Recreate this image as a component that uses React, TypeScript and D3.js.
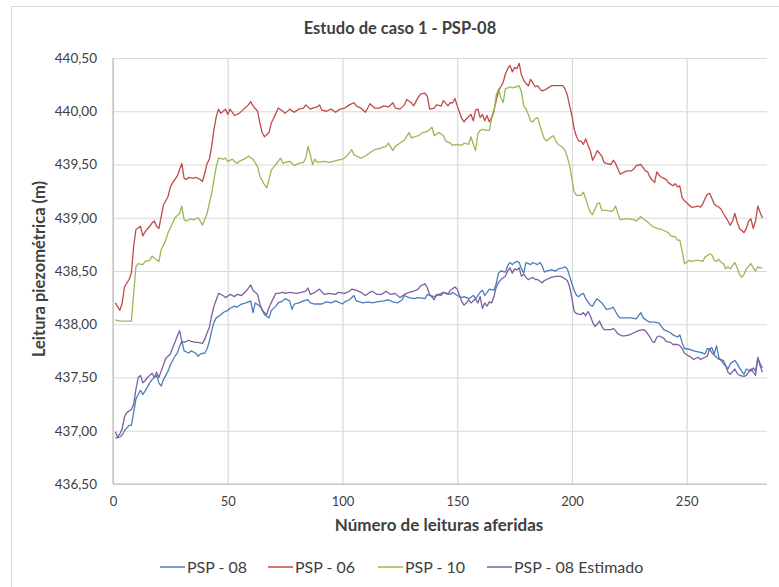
import { axisBottom, axisLeft, line, scaleLinear, select } from "d3";
import React, { useEffect, useRef } from "react";

// readings (x) and piezometric levels (m)
const psp08: [number, number][] = [
    [1, 436.93], [3, 436.94], [4, 436.96], [5, 437.0], [7, 437.05], [8, 437.05], [9, 437.17], [10, 437.3],
    [12, 437.38], [13, 437.34], [15, 437.41], [16, 437.45], [17, 437.48], [19, 437.52], [20, 437.45], [21, 437.42],
    [22, 437.48], [24, 437.56], [25, 437.62], [27, 437.7], [28, 437.73], [29, 437.79], [30, 437.84], [31, 437.75],
    [33, 437.73], [34, 437.75], [36, 437.73], [37, 437.7], [38, 437.72], [40, 437.73], [41, 437.77], [42, 437.84],
    [43, 437.94], [44, 438.02], [45, 438.06], [47, 438.09], [48, 438.11], [50, 438.13], [51, 438.15], [53, 438.17],
    [54, 438.16], [56, 438.19], [58, 438.2], [60, 438.22], [61, 438.11], [62, 438.2], [64, 438.17], [65, 438.14],
    [66, 438.09], [68, 438.06], [69, 438.13], [71, 438.17], [72, 438.2], [74, 438.22], [75, 438.24], [77, 438.22],
    [78, 438.14], [79, 438.19], [81, 438.2], [83, 438.22], [85, 438.23], [86, 438.2], [88, 438.19], [91, 438.19],
    [93, 438.21], [95, 438.2], [97, 438.22], [100, 438.19], [101, 438.21], [103, 438.23], [105, 438.27], [106, 438.22],
    [109, 438.2], [111, 438.21], [113, 438.2], [115, 438.21], [118, 438.22], [120, 438.23], [122, 438.21], [124, 438.2],
    [126, 438.23], [127, 438.27], [129, 438.25], [131, 438.24], [133, 438.25], [136, 438.24], [137, 438.28], [138, 438.27],
    [140, 438.26], [142, 438.28], [144, 438.3], [147, 438.28], [148, 438.3], [150, 438.27], [152, 438.25], [153, 438.26],
    [155, 438.24], [157, 438.27], [158, 438.24], [160, 438.3], [161, 438.32], [162, 438.27], [163, 438.3], [164, 438.33],
    [166, 438.32], [167, 438.38], [168, 438.48], [169, 438.5], [171, 438.49], [172, 438.55], [173, 438.58], [174, 438.56],
    [175, 438.58], [176, 438.59], [177, 438.58], [178, 438.52], [179, 438.48], [180, 438.58], [182, 438.56], [183, 438.58],
    [185, 438.56], [186, 438.58], [187, 438.55], [188, 438.49], [189, 438.5], [191, 438.51], [193, 438.5], [194, 438.52],
    [196, 438.53], [197, 438.54], [198, 438.52], [199, 438.45], [200, 438.38], [201, 438.32], [202, 438.27], [203, 438.26],
    [204, 438.28], [205, 438.29], [206, 438.24], [207, 438.21], [208, 438.18], [209, 438.17], [210, 438.21], [211, 438.24],
    [213, 438.2], [214, 438.17], [215, 438.14], [217, 438.15], [218, 438.16], [219, 438.12], [220, 438.08], [221, 438.06],
    [223, 438.06], [226, 438.06], [228, 438.05], [229, 438.08], [230, 438.11], [231, 438.06], [233, 438.03], [234, 438.02],
    [236, 438.02], [238, 438.01], [239, 437.98], [240, 437.95], [241, 437.94], [243, 437.92], [244, 437.9], [246, 437.88],
    [247, 437.9], [248, 437.83], [249, 437.77], [250, 437.77], [252, 437.76], [253, 437.75], [255, 437.74], [257, 437.73],
    [258, 437.72], [259, 437.77], [260, 437.77], [261, 437.78], [262, 437.72], [263, 437.8], [264, 437.69], [265, 437.66],
    [266, 437.63], [267, 437.61], [268, 437.58], [269, 437.63], [271, 437.66], [272, 437.63], [273, 437.59], [274, 437.56],
    [275, 437.53], [276, 437.58], [278, 437.56], [279, 437.59], [280, 437.56], [281, 437.68], [282, 437.63], [283, 437.59],
];

const psp06: [number, number][] = [
    [1, 438.2], [3, 438.13], [4, 438.2], [5, 438.35], [7, 438.42], [8, 438.48], [9, 438.73], [10, 438.89],
    [12, 438.92], [13, 438.83], [14, 438.87], [16, 438.92], [17, 438.95], [18, 438.97], [19, 438.92], [20, 438.9],
    [21, 439.01], [22, 439.12], [24, 439.2], [25, 439.29], [26, 439.33], [28, 439.39], [29, 439.45], [30, 439.51],
    [31, 439.37], [32, 439.36], [33, 439.38], [35, 439.37], [36, 439.38], [38, 439.36], [39, 439.34], [40, 439.42],
    [41, 439.51], [42, 439.55], [43, 439.67], [44, 439.83], [45, 439.95], [46, 440.02], [47, 439.98], [49, 440.02],
    [50, 439.97], [51, 440.02], [53, 439.96], [55, 439.98], [57, 440.02], [59, 440.06], [60, 440.09], [61, 440.05],
    [63, 440.0], [64, 439.89], [65, 439.8], [66, 439.76], [68, 439.8], [69, 439.89], [71, 439.98], [72, 440.03],
    [74, 440.0], [75, 439.98], [77, 440.02], [79, 439.99], [81, 440.02], [83, 440.03], [84, 440.06], [86, 440.02],
    [87, 440.03], [89, 440.04], [90, 440.06], [91, 440.01], [93, 440.0], [95, 440.02], [97, 439.99], [99, 440.02],
    [101, 440.03], [103, 440.06], [105, 440.08], [106, 440.05], [108, 440.03], [110, 439.99], [111, 440.03], [112, 440.07],
    [114, 440.03], [116, 440.03], [118, 440.05], [120, 440.04], [122, 440.08], [123, 440.03], [125, 440.02], [127, 440.06],
    [128, 440.11], [130, 440.08], [131, 440.05], [133, 440.13], [134, 440.16], [136, 440.17], [137, 440.14], [138, 440.02],
    [140, 440.03], [141, 440.06], [143, 440.05], [144, 440.1], [146, 440.05], [147, 440.08], [148, 440.08], [149, 440.12],
    [150, 440.05], [151, 439.99], [152, 439.93], [153, 439.9], [154, 439.93], [156, 439.97], [157, 439.91], [158, 440.01],
    [159, 440.02], [160, 439.94], [161, 439.97], [162, 439.91], [163, 439.96], [164, 439.9], [165, 439.94], [166, 440.01],
    [167, 440.1], [168, 440.19], [169, 440.23], [170, 440.27], [171, 440.35], [172, 440.4], [173, 440.43], [174, 440.37],
    [175, 440.41], [176, 440.4], [177, 440.45], [178, 440.34], [179, 440.29], [180, 440.26], [181, 440.24], [182, 440.3],
    [184, 440.23], [185, 440.24], [186, 440.21], [187, 440.19], [189, 440.21], [191, 440.24], [192, 440.24], [194, 440.24],
    [196, 440.24], [197, 440.21], [198, 440.15], [199, 440.05], [200, 439.96], [201, 439.83], [202, 439.76], [203, 439.72],
    [204, 439.72], [205, 439.69], [206, 439.74], [207, 439.68], [208, 439.63], [209, 439.54], [210, 439.58], [211, 439.63],
    [213, 439.58], [214, 439.52], [215, 439.51], [217, 439.5], [218, 439.54], [219, 439.51], [220, 439.46], [221, 439.41],
    [223, 439.43], [224, 439.44], [226, 439.44], [227, 439.46], [228, 439.49], [230, 439.5], [231, 439.47], [232, 439.44],
    [233, 439.43], [234, 439.38], [236, 439.33], [237, 439.43], [238, 439.4], [239, 439.38], [241, 439.36], [242, 439.33],
    [244, 439.3], [245, 439.32], [246, 439.29], [247, 439.3], [248, 439.19], [249, 439.16], [250, 439.14], [252, 439.1],
    [253, 439.1], [255, 439.11], [256, 439.1], [257, 439.13], [258, 439.18], [259, 439.22], [260, 439.23], [261, 439.18],
    [262, 439.13], [263, 439.11], [264, 439.1], [265, 439.08], [266, 439.04], [268, 438.97], [269, 438.93], [270, 438.97],
    [271, 439.04], [272, 438.96], [273, 438.9], [274, 438.88], [275, 438.86], [276, 438.9], [277, 438.97], [278, 438.99],
    [279, 438.9], [280, 438.97], [281, 439.11], [282, 439.05], [283, 439.0],
];

const psp10: [number, number][] = [
    [1, 438.04], [3, 438.03], [6, 438.03], [8, 438.03], [9, 438.29], [10, 438.54], [11, 438.57], [13, 438.56],
    [14, 438.59], [16, 438.6], [17, 438.64], [18, 438.62], [20, 438.59], [21, 438.7], [23, 438.79], [24, 438.86],
    [26, 438.95], [27, 439.0], [29, 439.04], [30, 439.11], [31, 438.98], [32, 438.97], [34, 438.99], [35, 438.98],
    [37, 439.0], [38, 438.97], [39, 438.93], [41, 439.04], [42, 439.14], [43, 439.23], [44, 439.36], [45, 439.48],
    [46, 439.56], [48, 439.55], [49, 439.56], [50, 439.53], [52, 439.55], [54, 439.51], [55, 439.53], [58, 439.56],
    [59, 439.58], [61, 439.55], [63, 439.48], [64, 439.39], [66, 439.31], [67, 439.28], [68, 439.36], [69, 439.45],
    [71, 439.5], [73, 439.56], [74, 439.51], [75, 439.52], [77, 439.53], [79, 439.49], [81, 439.51], [83, 439.52],
    [84, 439.56], [85, 439.67], [86, 439.59], [87, 439.5], [88, 439.55], [89, 439.52], [92, 439.53], [94, 439.52],
    [96, 439.53], [98, 439.54], [100, 439.55], [102, 439.58], [104, 439.64], [105, 439.59], [108, 439.56], [110, 439.58],
    [112, 439.61], [114, 439.64], [116, 439.65], [119, 439.67], [120, 439.7], [122, 439.63], [123, 439.67], [125, 439.7],
    [127, 439.73], [129, 439.8], [130, 439.75], [133, 439.77], [135, 439.8], [137, 439.81], [139, 439.85], [140, 439.77],
    [142, 439.8], [144, 439.77], [145, 439.72], [147, 439.7], [148, 439.68], [150, 439.69], [152, 439.68], [153, 439.7],
    [155, 439.69], [156, 439.76], [157, 439.69], [158, 439.63], [159, 439.79], [160, 439.82], [161, 439.83], [163, 439.82],
    [164, 439.82], [165, 439.93], [166, 439.99], [167, 440.15], [168, 440.21], [169, 440.13], [170, 440.08], [171, 440.21],
    [173, 440.23], [174, 440.22], [176, 440.23], [177, 440.24], [178, 440.18], [179, 440.05], [180, 440.02], [181, 439.97],
    [182, 439.91], [183, 439.9], [184, 439.93], [185, 439.94], [186, 439.87], [187, 439.8], [188, 439.74], [189, 439.72],
    [191, 439.76], [192, 439.77], [193, 439.72], [194, 439.69], [196, 439.66], [197, 439.63], [198, 439.57], [199, 439.49],
    [200, 439.36], [201, 439.24], [202, 439.21], [204, 439.21], [205, 439.24], [206, 439.18], [207, 439.11], [208, 439.05],
    [209, 439.03], [210, 439.08], [211, 439.13], [212, 439.14], [213, 439.07], [215, 439.07], [217, 439.06], [218, 439.07],
    [219, 439.11], [220, 439.04], [221, 438.98], [223, 438.99], [225, 438.99], [227, 438.98], [228, 438.97], [230, 439.01],
    [231, 438.99], [233, 438.96], [234, 438.94], [235, 438.92], [237, 438.9], [239, 438.89], [240, 438.88], [242, 438.86],
    [243, 438.83], [245, 438.82], [246, 438.79], [247, 438.79], [248, 438.69], [249, 438.57], [250, 438.58], [251, 438.6],
    [252, 438.59], [254, 438.6], [255, 438.6], [257, 438.59], [258, 438.63], [260, 438.66], [261, 438.65], [262, 438.6],
    [263, 438.59], [264, 438.61], [265, 438.58], [266, 438.57], [267, 438.52], [268, 438.54], [269, 438.52], [271, 438.58],
    [272, 438.53], [273, 438.47], [274, 438.44], [275, 438.47], [276, 438.52], [278, 438.57], [279, 438.53], [280, 438.5],
    [281, 438.54], [282, 438.53], [283, 438.53],
];

const psp08Estimado: [number, number][] = [
    [1, 436.99], [2, 436.94], [3, 436.97], [4, 437.02], [5, 437.13], [6, 437.17], [8, 437.2], [9, 437.25],
    [10, 437.39], [11, 437.5], [12, 437.52], [13, 437.45], [14, 437.47], [15, 437.5], [16, 437.52], [17, 437.54],
    [18, 437.5], [19, 437.55], [20, 437.5], [21, 437.56], [22, 437.62], [23, 437.68], [25, 437.72], [26, 437.78],
    [27, 437.83], [28, 437.89], [29, 437.94], [30, 437.84], [31, 437.83], [33, 437.85], [34, 437.84], [36, 437.83],
    [37, 437.83], [39, 437.82], [40, 437.86], [41, 437.92], [42, 437.97], [43, 438.08], [44, 438.17], [45, 438.23],
    [46, 438.29], [48, 438.27], [49, 438.25], [51, 438.28], [53, 438.26], [54, 438.28], [56, 438.27], [58, 438.31],
    [59, 438.34], [60, 438.37], [61, 438.32], [63, 438.28], [64, 438.19], [65, 438.13], [67, 438.09], [68, 438.16],
    [70, 438.25], [71, 438.29], [72, 438.29], [74, 438.3], [75, 438.29], [77, 438.3], [80, 438.29], [82, 438.3],
    [84, 438.31], [85, 438.34], [86, 438.28], [88, 438.3], [90, 438.33], [92, 438.28], [94, 438.29], [97, 438.28],
    [98, 438.3], [101, 438.29], [103, 438.31], [104, 438.33], [106, 438.32], [108, 438.3], [110, 438.27], [112, 438.3],
    [113, 438.31], [115, 438.28], [117, 438.28], [119, 438.31], [121, 438.28], [123, 438.29], [125, 438.25], [127, 438.28],
    [129, 438.3], [131, 438.31], [133, 438.33], [134, 438.36], [136, 438.38], [137, 438.34], [138, 438.28], [140, 438.23],
    [141, 438.28], [143, 438.27], [144, 438.3], [146, 438.28], [147, 438.32], [149, 438.35], [150, 438.33], [151, 438.27],
    [152, 438.21], [153, 438.18], [154, 438.2], [155, 438.23], [156, 438.2], [158, 438.24], [159, 438.2], [160, 438.26],
    [161, 438.15], [162, 438.2], [163, 438.17], [164, 438.21], [165, 438.2], [166, 438.26], [167, 438.35], [168, 438.39],
    [169, 438.42], [171, 438.45], [172, 438.5], [173, 438.53], [174, 438.48], [175, 438.52], [176, 438.51], [177, 438.53],
    [178, 438.45], [179, 438.47], [180, 438.44], [181, 438.42], [183, 438.44], [184, 438.42], [185, 438.42], [187, 438.39],
    [188, 438.41], [189, 438.42], [191, 438.44], [193, 438.45], [195, 438.45], [196, 438.44], [198, 438.41], [199, 438.35],
    [200, 438.24], [201, 438.12], [202, 438.1], [204, 438.09], [205, 438.11], [206, 438.08], [207, 438.12], [208, 438.08],
    [209, 438.02], [210, 437.98], [211, 438.0], [212, 438.03], [213, 437.98], [214, 437.95], [216, 437.95], [217, 437.95],
    [218, 437.96], [219, 437.94], [220, 437.91], [222, 437.89], [223, 437.89], [225, 437.9], [227, 437.92], [229, 437.94],
    [231, 437.95], [232, 437.94], [233, 437.91], [234, 437.88], [235, 437.84], [236, 437.83], [237, 437.88], [238, 437.89],
    [240, 437.87], [241, 437.84], [243, 437.83], [244, 437.81], [246, 437.81], [247, 437.8], [248, 437.77], [249, 437.73],
    [251, 437.7], [252, 437.69], [253, 437.67], [255, 437.69], [256, 437.67], [258, 437.69], [259, 437.7], [260, 437.77],
    [261, 437.73], [263, 437.69], [264, 437.67], [266, 437.66], [267, 437.61], [268, 437.55], [269, 437.53], [271, 437.58],
    [272, 437.54], [273, 437.52], [275, 437.51], [276, 437.52], [278, 437.58], [279, 437.55], [280, 437.52], [281, 437.69],
    [282, 437.61], [283, 437.55],
];

const seriesNames = ["PSP - 08", "PSP - 06", "PSP - 10", "PSP - 08 Estimado"];
const seriesColors = ["#4a7ebb", "#be4b48", "#98b954", "#7d60a0"];
const seriesData = [psp08, psp06, psp10, psp08Estimado];
const xTicks = [0, 50, 100, 150, 200, 250];
const yTicks = [436.5, 437, 437.5, 438, 438.5, 439, 439.5, 440, 440.5];

const W = 779;
const H = 587;
const FONT = "Lato, 'Open Sans', sans-serif";

const App: React.FC = () => {
    const svgRef = useRef<SVGSVGElement>(null);

    useEffect(() => {
        const svg = select(svgRef.current);
        svg.selectAll("*").remove();

        const margin = { top: 58, right: 12, bottom: 103, left: 113 };
        const width = W - margin.left - margin.right;
        const height = H - margin.top - margin.bottom;

        const x = scaleLinear().domain([0, 285]).range([0, width]);
        const y = scaleLinear().domain([436.5, 440.5]).range([height, 0]);

        // chart frame
        svg.append("rect")
            .attr("x", 11.5)
            .attr("y", 6.5)
            .attr("width", 800)
            .attr("height", 600)
            .attr("fill", "#fff")
            .attr("stroke", "#d9d9d9");

        svg.append("text")
            .attr("x", 400)
            .attr("y", 34)
            .attr("text-anchor", "middle")
            .attr("font-family", FONT)
            .attr("font-weight", "bold")
            .attr("font-size", 16.5)
            .attr("fill", "#404040")
            .text("Estudo de caso 1 - PSP-08");

        const g = svg
            .append("g")
            .attr("transform", `translate(${margin.left},${margin.top})`);

        // horizontal grid + y labels
        g.append("g")
            .call(axisLeft(y).tickValues(yTicks).tickSize(-width).tickPadding(16)
                .tickFormat((d) => (d as number).toFixed(2).replace(".", ",")))
            .call((a) => a.select(".domain").remove())
            .call((a) => a.selectAll(".tick line").attr("stroke", "#d9d9d9").attr("stroke-width", 1.2))
            .call((a) => a.selectAll(".tick text")
                .attr("font-family", FONT).attr("font-size", 13.5).attr("fill", "#404040"));

        // vertical grid + x labels
        g.append("g")
            .attr("transform", `translate(0,${height})`)
            .call(axisBottom(x).tickValues(xTicks).tickSize(-height).tickPadding(13))
            .call((a) => a.select(".domain").remove())
            .call((a) => a.selectAll(".tick line").attr("stroke", "#d9d9d9").attr("stroke-width", 1.2))
            .call((a) => a.selectAll(".tick text")
                .attr("font-family", FONT).attr("font-size", 13).attr("fill", "#404040"));

        // axis lines
        g.append("line").attr("x1", 0).attr("x2", width).attr("y1", height).attr("y2", height)
            .attr("stroke", "#bfbfbf").attr("stroke-width", 1.2);
        g.append("line").attr("x1", 0).attr("x2", 0).attr("y1", 0).attr("y2", height)
            .attr("stroke", "#bfbfbf").attr("stroke-width", 1.2);

        const path = line<[number, number]>()
            .x((d) => x(d[0]))
            .y((d) => y(d[1]));

        seriesData.forEach((s, i) => {
            g.append("path")
                .datum(s)
                .attr("fill", "none")
                .attr("stroke", seriesColors[i])
                .attr("stroke-width", 1.3)
                .attr("stroke-linejoin", "round")
                .attr("d", path);
        });

        svg.append("text")
            .attr("x", 439)
            .attr("y", 531)
            .attr("text-anchor", "middle")
            .attr("font-family", FONT)
            .attr("font-weight", "bold")
            .attr("font-size", 17)
            .attr("fill", "#404040")
            .text("Número de leituras aferidas");

        svg.append("text")
            .attr("transform", "translate(45,269) rotate(-90)")
            .attr("text-anchor", "middle")
            .attr("font-family", FONT)
            .attr("font-weight", "bold")
            .attr("font-size", 16.5)
            .attr("fill", "#404040")
            .text("Leitura piezométrica (m)");

        // legend
        const legendX = [160, 268, 378, 487];
        seriesNames.forEach((name, i) => {
            const lg = svg.append("g").attr("transform", `translate(${legendX[i]},567)`);
            lg.append("line").attr("x1", 0).attr("x2", 25).attr("y1", 0).attr("y2", 0)
                .attr("stroke", seriesColors[i]).attr("stroke-width", 1.5);
            lg.append("text").attr("x", 27).attr("y", 6)
                .attr("font-family", FONT).attr("font-size", 16).attr("fill", "#404040")
                .text(name);
        });
    }, []);

    return (
        <svg
            ref={svgRef}
            width={W}
            height={H}
            style={{ position: "absolute", left: 0, top: 0, background: "#fff" }}
        />
    );
};

export default App;
